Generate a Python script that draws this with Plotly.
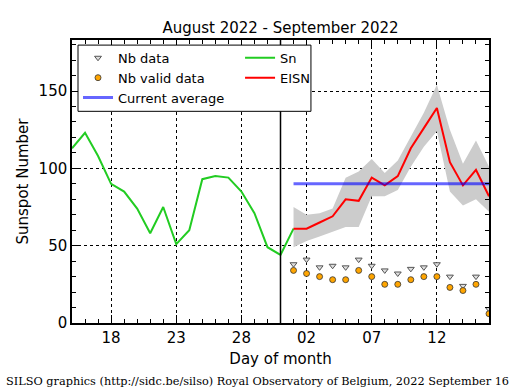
import plotly.graph_objects as go

# ---- data ----
sn_dates = ["2022-08-15", "2022-08-16", "2022-08-17", "2022-08-18", "2022-08-19", "2022-08-20",
            "2022-08-21", "2022-08-22", "2022-08-23", "2022-08-24", "2022-08-25", "2022-08-26",
            "2022-08-27", "2022-08-28", "2022-08-29", "2022-08-30", "2022-08-31", "2022-09-01"]
sn_values = [113, 123, 108, 90, 85, 74, 58, 75, 51, 60, 93, 95, 94, 85, 71, 49, 44, 61]

eisn_dates = ["2022-09-01", "2022-09-02", "2022-09-03", "2022-09-04", "2022-09-05", "2022-09-06",
              "2022-09-07", "2022-09-08", "2022-09-09", "2022-09-10", "2022-09-11", "2022-09-12",
              "2022-09-13", "2022-09-14", "2022-09-15", "2022-09-16"]
eisn_values = [61, 61, 65, 69, 80, 79, 94, 89, 95, 113, 126, 139, 104, 89, 99, 82]
eisn_upper = [75, 70, 71, 74, 94, 98, 106, 97, 105, 121, 136, 154, 125, 103, 118, 101]
eisn_lower = [49, 53, 56, 59, 62, 62, 82, 82, 86, 101, 114, 124, 85, 76, 80, 72]

nb_data = [38, 41, 36, 37, 36, 41, 37, 34, 32, 35, 36, 38, 30, 24, 30, 9]
nb_valid = [34, 32, 30, 28, 28, 34, 30, 25, 25, 28, 30, 30, 23, 21, 25, 6]

current_average = 90
month_boundary = "2022-08-31"

tick_dates = ["2022-08-18", "2022-08-23", "2022-08-28", "2022-09-02", "2022-09-07", "2022-09-12"]
tick_labels = ["18", "23", "28", "02", "07", "12"]
y_ticks = [0, 50, 100, 150]

x_range = ["2022-08-15", "2022-09-16"]
y_range = [0, 183]

FONT = "DejaVu Sans"
LEG_FONT = dict(family=FONT, size=13, color="black")

fig = go.Figure()

# gray uncertainty band
fig.add_trace(go.Scatter(x=eisn_dates, y=eisn_upper, mode="lines", line=dict(width=0),
                         showlegend=False, hoverinfo="skip"))
fig.add_trace(go.Scatter(x=eisn_dates, y=eisn_lower, mode="lines", line=dict(width=0),
                         fill="tonexty", fillcolor="#cccccc", showlegend=False, hoverinfo="skip"))

fig.add_trace(go.Scatter(x=sn_dates, y=sn_values, mode="lines", name="Sn",
                         line=dict(color="#22cc22", width=2), legend="legend2", legendrank=1))
fig.add_trace(go.Scatter(x=eisn_dates, y=eisn_values, mode="lines", name="EISN",
                         line=dict(color="#ff0000", width=2), legend="legend2", legendrank=2))
fig.add_trace(go.Scatter(x=[eisn_dates[0], eisn_dates[-1]], y=[current_average, current_average],
                         mode="lines", name="Current average",
                         line=dict(color="rgba(0,0,255,0.6)", width=3), legend="legend", legendrank=3))
fig.add_trace(go.Scatter(x=eisn_dates, y=nb_data, mode="markers", name="Nb data",
                         marker=dict(symbol="triangle-down", size=6, color="#dddddd",
                                     line=dict(color="#555555", width=1)),
                         legend="legend", legendrank=1))
fig.add_trace(go.Scatter(x=eisn_dates, y=nb_valid, mode="markers", name="Nb valid data",
                         marker=dict(symbol="circle", size=6, color="#ffa500",
                                     line=dict(color="#333333", width=0.8)),
                         legend="legend", legendrank=2))

fig.add_shape(type="line", x0=month_boundary, x1=month_boundary, y0=0, y1=1,
              xref="x", yref="paper", line=dict(color="black", width=1.5))

# legend frame (layout decoration)
fig.add_shape(type="rect", xref="paper", yref="paper", x0=0.0144, x1=0.573, y0=0.748, y1=0.982,
              fillcolor="white", line=dict(color="black", width=1), layer="above")

axis_common = dict(showline=True, linecolor="black", linewidth=1.5, mirror="allticks",
                   ticks="inside", ticklen=8, tickcolor="black", tickwidth=1,
                   showgrid=True, gridcolor="black", griddash="dot", gridwidth=1,
                   zeroline=False, tickfont=dict(family=FONT, size=15, color="black"))

fig.update_xaxes(type="date", range=x_range, tickvals=tick_dates, ticktext=tick_labels,
                 title=dict(text="Day of month", font=dict(family=FONT, size=15, color="black"),
                            standoff=8),
                 minor=dict(dtick=86400000, ticks="inside", ticklen=4, tickcolor="black",
                            showgrid=False),
                 **axis_common)
fig.update_yaxes(range=y_range, tickvals=y_ticks,
                 title=dict(text="Sunspot Number", font=dict(family=FONT, size=15, color="black"),
                            standoff=6),
                 minor=dict(dtick=10, ticks="inside", ticklen=4, tickcolor="black",
                            showgrid=False),
                 **axis_common)

fig.add_annotation(text="SILSO graphics (http://sidc.be/silso) Royal Observatory of Belgium, 2022 September 16",
                   xref="paper", yref="paper", x=0.445, y=-0.205, xanchor="center", yanchor="middle",
                   showarrow=False, font=dict(family="DejaVu Serif", size=11.3, color="black"))

fig.update_layout(
    width=515, height=390,
    margin=dict(l=72, r=26, t=40, b=67, autoexpand=False),
    paper_bgcolor="white", plot_bgcolor="white",
    title=dict(text="August 2022 - September 2022", x=0.5, xref="paper", xanchor="center",
               y=1 - 27.5 / 390, yanchor="middle", font=dict(family=FONT, size=15, color="black")),
    showlegend=True,
    legend=dict(x=0.0144, y=0.99, xanchor="left", yanchor="top", traceorder="normal",
                bgcolor="rgba(0,0,0,0)", borderwidth=0, font=LEG_FONT),
    legend2=dict(x=0.403, y=0.99, xanchor="left", yanchor="top", traceorder="normal",
                 bgcolor="rgba(0,0,0,0)", borderwidth=0, font=LEG_FONT),
)

fig.write_html("out.html", config={"displayModeBar": False},
               post_script="document.body.style.margin='0';")
